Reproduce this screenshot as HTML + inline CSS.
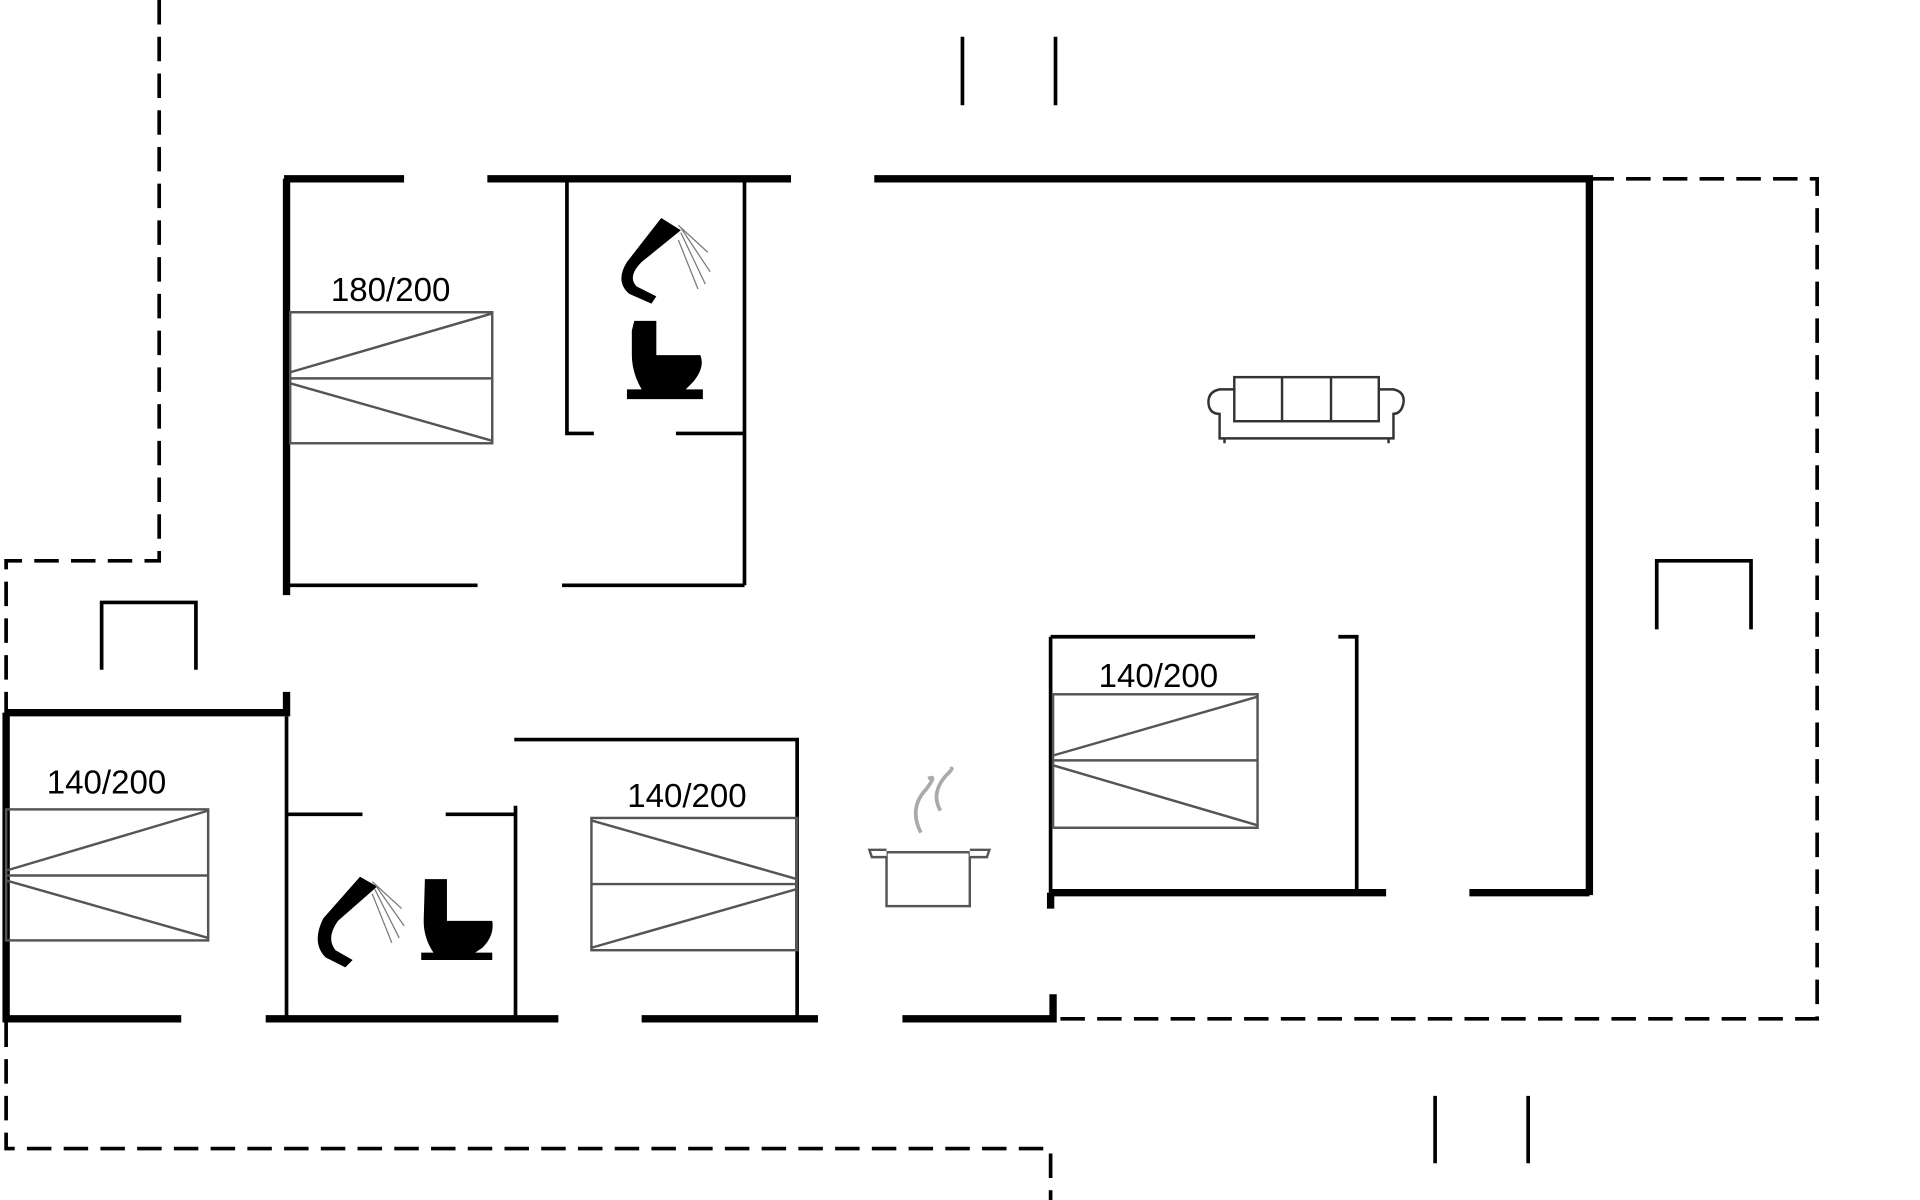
<!DOCTYPE html>
<html><head><meta charset="utf-8"><style>html,body{margin:0;padding:0;background:#fff}svg{display:block}</style></head><body>
<svg width="1920" height="1200" viewBox="0 0 1568 980" xmlns="http://www.w3.org/2000/svg">
<g fill="none" stroke="#000" stroke-width="3" stroke-dasharray="20,10">
<path d="M130 0V458H5V938H858V980"/>
<path d="M1298 146H1484V832H860"/>
</g>
<g stroke="#000" stroke-width="6" fill="none">
<path d="M232 146H330M398 146H646M714 146H1298V731"/>
<path d="M234 146V486M234 565V585M5 582H234M5 582V835"/>
<path d="M5 832H148M217 832H456M524 832H668M737 832H860V812"/>
<path d="M858 729H1132M1200 729H1298M858 729V742"/>
</g>
<g stroke="#000" stroke-width="3" fill="none">
<path d="M463 146V354H485M552 354H608M608 146V478"/>
<path d="M234 478H390M459 478H608"/>
<path d="M234 585V832M234 665H296M364 665H420M421 658V832"/>
<path d="M420 604H651V832"/>
<path d="M858 520H1025M1093 520H1108V727M858 520V729"/>
<path d="M786 30V86M862 30V86M1172 895V950M1248 895V950"/>
<path d="M83 547V492H160V547M1353 514V458H1430V514"/>
</g>
<g stroke="#555" stroke-width="2" fill="none">
<rect x="237" y="255" width="165" height="107"/><path d="M237 309H402M237 304L402 256M237 313L402 360"/>
<rect x="5" y="661" width="165" height="107"/><path d="M5 715H170M5 711L170 662M5 719L170 766"/>
<rect x="483" y="668" width="168" height="108"/><path d="M483 722H651M651 718L483 670M651 726L483 774"/>
<rect x="860" y="567" width="167" height="109"/><path d="M860 621H1027M860 617L1027 569M860 625L1027 674"/>
</g>
<g font-family="Liberation Sans, sans-serif" font-size="27" text-anchor="middle" fill="#000">
<text x="319" y="246">180/200</text><text x="87" y="648">140/200</text>
<text x="561" y="659">140/200</text><text x="946" y="561">140/200</text>
</g>
<g stroke="#333" stroke-width="2" fill="#fff">
<path d="M996 318H1138Q1148 320 1146 330Q1144 338 1138 338V358H996V338Q988 338 987 330Q986 320 996 318Z"/>
<rect x="1008" y="308" width="118" height="36"/>
<path d="M1047 308V344M1087 308V344M1000 362V358M1134 362V358"/>
</g>
<g stroke="#555" stroke-width="2" fill="#fff">
<rect x="724" y="696" width="68" height="44"/>
<path d="M724 700H712L710 694H724M792 700H806L808 694H792"/>
</g>
<path d="M752 680Q742 660 756 645Q766 632 758 636M768 662Q760 648 772 634Q780 626 776 628" stroke="#aaa" stroke-width="3" fill="none"/>
<g fill="#000">
<path d="M540 178L556 188 524 214Q512 226 520 234L536 242 532 248 514 240Q502 230 512 214Z"/>
<path d="M518 262H536V290H572Q576 300 566 312L560 318H574V326H512V318H524Q516 304 516 290V270Z"/>
<path d="M294 716L308 724 276 752Q266 766 274 776L288 784 282 790 266 782Q254 770 264 750Z"/>
<path d="M347 718H365V752H402Q404 764 394 774L388 778H402V784H344V778H354Q346 766 346 752Z"/>
</g>
<g stroke="#777" stroke-width="1" fill="none">
<path d="M556 190L576 232M556 186L580 222M554 184L578 206M554 196L570 236"/>
<path d="M306 726L326 766M306 722L330 756M304 720L328 742M304 730L320 770"/>
</g>
</svg>
</body></html>
